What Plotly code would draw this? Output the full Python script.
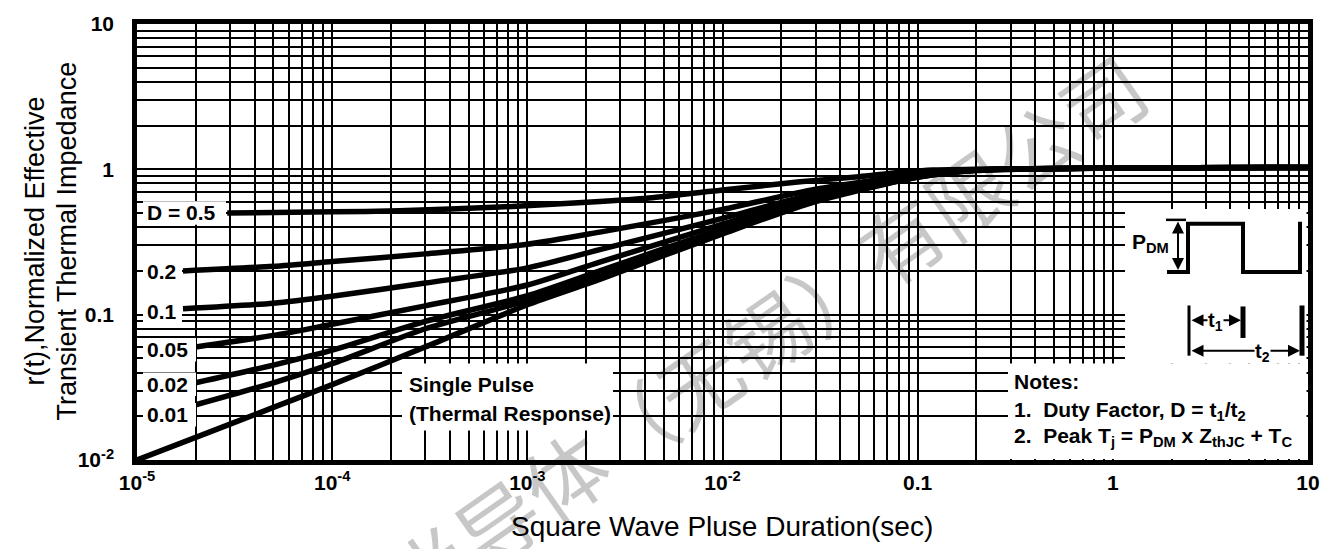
import plotly.graph_objects as go

# ---------------- data ----------------
x_decades = [1e-5, 1e-4, 1e-3, 1e-2, 1e-1, 1, 10]
x_tick_labels = ["10<sup>-5</sup>", "10<sup>-4</sup>", "10<sup>-3</sup>", "10<sup>-2</sup>", "0.1", "1", "10"]
y_decades = [0.01, 0.1, 1, 10]
y_tick_labels = ["10<sup>-2</sup>", "0.1", "1", "10"]

t_d05 = [2.9e-5, 1e-4, 2.2e-4, 7.2e-4, 2.35e-3, 4.2e-3, 1e-2, 2.5e-2, 5e-2, 8e-2, 0.12, 0.2, 1, 10]
r_d05 = [0.50, 0.51, 0.518, 0.55, 0.60, 0.635, 0.72, 0.82, 0.89, 0.95, 0.99, 1.0, 1.02, 1.03]

t_d02 = [1.72e-5, 5e-5, 1e-4, 3e-4, 1e-3, 2.35e-3, 1e-2, 3e-2, 0.1, 0.2, 1, 10]
r_d02 = [0.20, 0.215, 0.232, 0.262, 0.305, 0.37, 0.53, 0.73, 0.92, 0.99, 1.02, 1.03]

t_d01 = [1.72e-5, 5e-5, 1e-4, 3e-4, 1e-3, 2.35e-3, 1e-2, 3e-2, 0.1, 0.2, 1, 10]
r_d01 = [0.11, 0.12, 0.134, 0.165, 0.21, 0.28, 0.46, 0.68, 0.91, 0.99, 1.02, 1.03]

t_d005 = [2e-5, 5e-5, 1e-4, 3e-4, 1e-3, 2.35e-3, 1e-2, 3e-2, 0.1, 0.2, 1, 10]
r_d005 = [0.060, 0.072, 0.086, 0.115, 0.16, 0.23, 0.42, 0.65, 0.90, 0.99, 1.02, 1.03]

t_d002 = [2e-5, 5e-5, 1e-4, 3e-4, 1e-3, 2.35e-3, 1e-2, 3e-2, 0.1, 0.2, 1, 10]
r_d002 = [0.034, 0.045, 0.057, 0.09, 0.135, 0.20, 0.39, 0.62, 0.89, 0.99, 1.02, 1.03]

t_d001 = [2e-5, 5e-5, 1e-4, 3e-4, 1e-3, 2.35e-3, 1e-2, 3e-2, 0.1, 0.2, 1, 10]
r_d001 = [0.024, 0.034, 0.046, 0.08, 0.125, 0.185, 0.37, 0.61, 0.885, 0.99, 1.02, 1.03]

t_single = [1e-5, 2e-5, 5e-5, 1e-4, 3e-4, 1e-3, 2.35e-3, 1e-2, 3e-2, 0.1, 0.2, 1, 10]
r_single = [0.010, 0.0143, 0.023, 0.033, 0.06, 0.117, 0.175, 0.36, 0.60, 0.88, 0.98, 1.02, 1.03]

series = [
    ("D = 0.5", t_d05, r_d05),
    ("0.2", t_d02, r_d02),
    ("0.1", t_d01, r_d01),
    ("0.05", t_d005, r_d005),
    ("0.02", t_d002, r_d002),
    ("0.01", t_d001, r_d001),
    ("Single Pulse", t_single, r_single),
]

# minor grid positions (2..9 per decade)
minor_x = [d * k for d in x_decades[:-1] for k in range(2, 10)]
minor_y = [d * k for d in y_decades[:-1] for k in range(2, 10)]

# ---------------- layout helpers (pixel -> paper) ----------------
W, H = 1336, 549
L, R, T, B = 137, 1308, 17, 460


def px(x):
    return (x - L) / (R - L)


def py(y):
    return (B - y) / (B - T)


FONT = "Liberation Sans, Arial, Helvetica, sans-serif"

fig = go.Figure()
for name, t, r in series:
    fig.add_trace(go.Scatter(x=t, y=r, mode="lines", name=name,
                             line=dict(color="black", width=5.5, shape="spline", smoothing=0.7),
                             hoverinfo="skip"))

shapes = []
annotations = []


def white_rect(x0, y0, x1, y1):
    shapes.append(dict(type="rect", xref="paper", yref="paper",
                       x0=px(x0), x1=px(x1), y0=py(y1), y1=py(y0),
                       fillcolor="white", line=dict(width=0), layer="above"))


# label boxes on the left
label_boxes = [
    ("D = 0.5", 143, 197, 226, 221, 209),
    ("0.2", 143, 256, 182, 280, 268),
    ("0.1", 143, 297, 182, 321, 309),
    ("0.05", 143, 336, 196, 360, 348),
    ("0.02", 143, 371, 196, 395, 383),
    ("0.01", 143, 402, 196, 426, 414),
]
for txt, x0, y0, x1, y1, yc in label_boxes:
    white_rect(x0, y0, x1, y1)
    annotations.append(dict(text="<b>%s</b>" % txt, xref="paper", yref="paper",
                            x=px(145), y=py(yc), xanchor="left", yanchor="middle",
                            showarrow=False, font=dict(family=FONT, size=21, color="black")))

# single pulse box
white_rect(402, 362, 613, 430)
annotations.append(dict(text="<b>Single Pulse</b>", xref="paper", yref="paper", x=px(407), y=py(383),
                        xanchor="left", yanchor="middle", showarrow=False,
                        font=dict(family=FONT, size=21, color="black")))
annotations.append(dict(text="<b>(Thermal Response)</b>", xref="paper", yref="paper", x=px(407), y=py(413),
                        xanchor="left", yanchor="middle", showarrow=False,
                        font=dict(family=FONT, size=21, color="black")))

# inset + notes boxes
white_rect(1125, 205, 1306.5, 362)
white_rect(1008, 362, 1306.5, 459)


def seg(x0, y0, x1, y1, w):
    shapes.append(dict(type="line", xref="paper", yref="paper",
                       x0=px(x0), y0=py(y0), x1=px(x1), y1=py(y1),
                       line=dict(color="black", width=w), layer="above"))


# pulse waveform
wave = [(1167, 269), (1188, 269), (1188, 220), (1243, 220), (1243, 269), (1300, 269), (1300, 218)]
path = "M " + " L ".join("%.5f,%.5f" % (px(a), py(b)) for a, b in wave)
shapes.append(dict(type="path", xref="paper", yref="paper", path=path,
                   line=dict(color="black", width=4), layer="above"))
# P_DM top tick
seg(1166, 216, 1186, 216, 2.5)
# t bars
seg(1189, 303, 1189, 354, 3)
seg(1243, 304, 1243, 336, 5)
seg(1302, 303, 1302, 354, 5)


def darrow(x_head, y_head, ax, ay):
    annotations.append(dict(text="", xref="paper", yref="paper", x=px(x_head), y=py(y_head),
                            ax=ax, ay=ay, showarrow=True, arrowhead=2, arrowside="end+start",
                            arrowsize=1.2, arrowwidth=2, arrowcolor="black", standoff=0, startstandoff=0))


darrow(1178, 267, 0, -50)          # P_DM arrow
darrow(1241, 318, -51, 0)          # t1 arrow
darrow(1300, 349, -110, 0)         # t2 arrow

annotations.append(dict(text="<b>P<sub>DM</sub></b>", xref="paper", yref="paper", x=px(1150), y=py(240),
                        xanchor="center", yanchor="middle", showarrow=False,
                        font=dict(family=FONT, size=21, color="black")))
annotations.append(dict(text="<b>t<sub>1</sub></b>", xref="paper", yref="paper", x=px(1215), y=py(319),
                        xanchor="center", yanchor="middle", showarrow=False, bgcolor="white", borderpad=0,
                        font=dict(family=FONT, size=20, color="black")))
annotations.append(dict(text="<b>t<sub>2</sub></b>", xref="paper", yref="paper", x=px(1262), y=py(351),
                        xanchor="center", yanchor="middle", showarrow=False, bgcolor="white", borderpad=0,
                        font=dict(family=FONT, size=20, color="black")))

NB = "\u00a0"
notes = [
    ("<b>Notes:</b>", 380),
    ("<b>1." + NB * 2 + "Duty Factor, D = t<sub>1</sub>/t<sub>2</sub></b>", 410),
    ("<b>2." + NB * 2 + "Peak T<sub>j</sub> = P<sub>DM</sub> x Z<sub>thJC</sub> + T<sub>C</sub></b>", 437),
]
for txt, yc in notes:
    annotations.append(dict(text=txt, xref="paper", yref="paper", x=px(1012), y=py(yc),
                            xanchor="left", yanchor="middle", showarrow=False,
                            font=dict(family=FONT, size=21, color="black")))

# axis titles
annotations.append(dict(text="r(t),Normalized Effective",
                        xref="paper", yref="paper", x=px(35), y=py(238), textangle=-90,
                        xanchor="center", yanchor="middle", showarrow=False,
                        font=dict(family=FONT, size=27, color="black")))
annotations.append(dict(text="Transient Thermal Impedance",
                        xref="paper", yref="paper", x=px(67), y=py(238), textangle=-90,
                        xanchor="center", yanchor="middle", showarrow=False,
                        font=dict(family=FONT, size=27, color="black")))
annotations.append(dict(text="Square Wave Pluse Duration(sec)", xref="paper", yref="paper",
                        x=px(722), y=py(528), xanchor="center", yanchor="middle", showarrow=False,
                        font=dict(family=FONT, size=28, color="black")))

# watermark
annotations.append(dict(text="半导体（无锡）有限公司", xref="paper", yref="paper",
                        x=px(765), y=py(330), xanchor="center", yanchor="middle", textangle=-35,
                        showarrow=False, font=dict(family="Noto Sans CJK SC", size=82,
                                                   color="rgba(0,0,0,0.22)")))

axis_common = dict(type="log", showgrid=True, gridcolor="black", gridwidth=1.7,
                   showline=True, linecolor="black", linewidth=4.5, mirror=True,
                   ticks="", zeroline=False, tickmode="array",
                   tickfont=dict(family=FONT, size=21, color="black", weight="bold"))

fig.update_layout(
    width=W, height=H,
    margin=dict(l=L, r=W - R, t=T, b=H - B),
    paper_bgcolor="white", plot_bgcolor="white",
    showlegend=False,
    xaxis=dict(range=[-5, 1], tickvals=x_decades, ticktext=x_tick_labels, ticklabelstandoff=0,
               minor=dict(tickmode="array", tickvals=minor_x, showgrid=True,
                          gridcolor="black", gridwidth=1.7, ticks=""),
               **axis_common),
    yaxis=dict(range=[-2, 1], tickvals=y_decades, ticktext=y_tick_labels, ticklabelstandoff=14,
               minor=dict(tickmode="array", tickvals=minor_y, showgrid=True,
                          gridcolor="black", gridwidth=1.7, ticks=""),
               **axis_common),
    shapes=shapes,
    annotations=annotations,
)

fig.write_html("out.html")
